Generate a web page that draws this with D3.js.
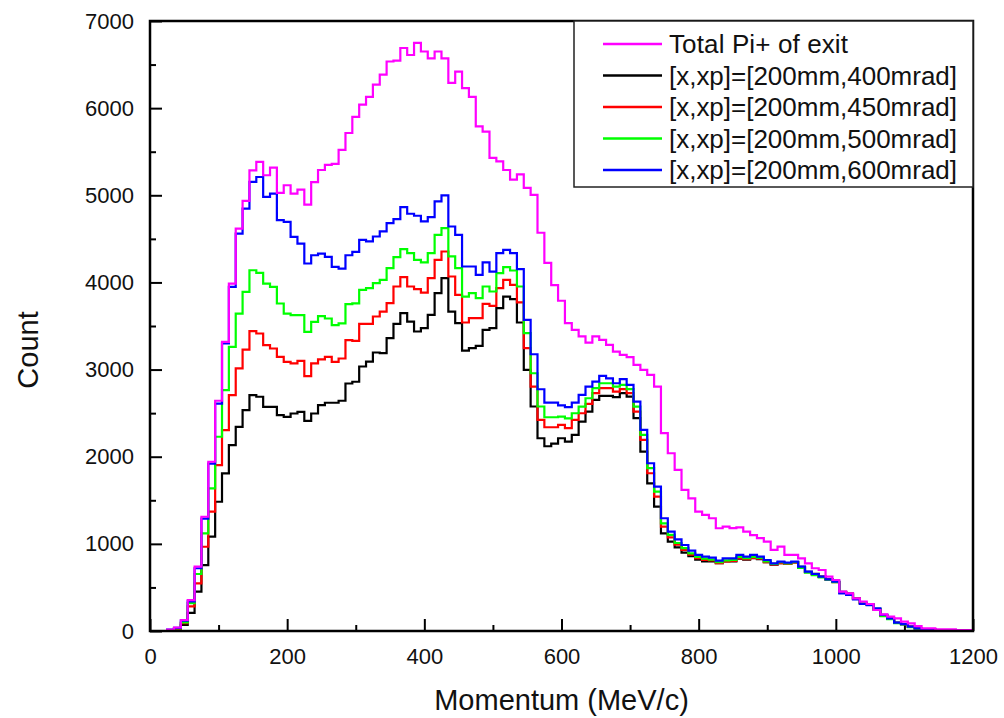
<!DOCTYPE html>
<html>
<head>
<meta charset="utf-8">
<script src="https://cdn.jsdelivr.net/npm/d3@7"></script>
<style>
  body { margin: 0; background: #fff; }
  svg { display: block; font-family: "Liberation Sans", Arial, sans-serif; }
</style>
</head>
<body>
<svg id="chart" width="1004" height="718"></svg>
<script>
// momentum bins: centre of bin k is k*10 MeV/c (0..1200)
var binWidth = 10;

var totalPi = [0,0,0,15,40,126,355,738,1311,1942,
  2642,3318,3987,4618,4935,5287,5383,5230,5318,5027,
  5115,5020,5065,4893,5150,5290,5350,5360,5520,5715,
  5900,6040,6130,6270,6384,6535,6545,6690,6610,6750,
  6650,6570,6650,6570,6290,6420,6230,6130,5790,5730,
  5430,5390,5290,5180,5240,5085,5005,4570,4225,3970,
  3790,3532,3456,3380,3310,3380,3340,3284,3207,3169,
  3142,3054,2996,2940,2805,2270,2040,1848,1619,1523,
  1370,1332,1294,1179,1198,1180,1190,1140,1100,1065,
  1026,930,968,873,873,834,777,720,700,624,
  585,452,432,375,337,310,241,191,165,145,
  107,88,57,30,30,20,20,20,10,10,10];

var xp400 = [0,0,0,5,20,70,207,451,757,1082,
  1483,1808,2133,2343,2535,2707,2688,2573,2573,2477,
  2458,2496,2515,2412,2496,2592,2619,2619,2642,2840,
  2860,3035,3092,3196,3188,3360,3525,3647,3551,3437,
  3475,3628,3877,4049,3666,3532,3218,3245,3272,3456,
  3475,3704,3838,3808,3540,2996,2576,2212,2120,2150,
  2212,2174,2250,2403,2518,2652,2698,2698,2683,2729,
  2690,2442,2059,1695,1427,1121,1025,960,900,860,
  820,800,800,780,800,800,830,820,835,825,
  790,760,780,770,790,735,680,655,625,595,
  565,450,430,375,322,305,245,180,142,95,
  80,50,30,18,18,10,10,10,0,0,0];

var xp450 = [0,0,0,8,25,90,283,547,967,1369,
  1904,2305,2707,3013,3230,3441,3414,3280,3242,3146,
  3089,3070,3100,2925,3070,3116,3146,3089,3127,3338,
  3330,3525,3525,3609,3666,3762,3953,4060,3953,3923,
  3884,4049,4259,4355,4068,3858,3540,3590,3590,3754,
  3731,3934,4030,3972,3770,3245,2805,2422,2338,2338,
  2365,2327,2422,2499,2606,2729,2786,2786,2748,2775,
  2729,2518,2193,1810,1542,1198,1075,990,930,875,
  835,815,810,780,800,805,835,825,840,830,
  790,765,780,770,785,730,675,648,620,590,
  560,445,425,372,318,300,250,175,140,92,
  78,48,30,17,17,10,10,10,0,0,0];

var xp500 = [0,0,0,10,30,100,320,654,1120,1636,
  2229,2764,3261,3643,3892,4140,4110,3987,3949,3758,
  3643,3624,3624,3433,3548,3613,3586,3509,3529,3750,
  3760,3915,3934,3992,4030,4164,4290,4382,4336,4259,
  4229,4336,4546,4623,4298,4164,3838,3877,3819,3953,
  3896,4106,4175,4137,3953,3418,2958,2576,2453,2453,
  2460,2441,2499,2575,2671,2786,2843,2843,2805,2824,
  2775,2575,2250,1868,1600,1236,1102,1010,950,890,
  850,830,820,790,810,815,850,835,850,840,
  800,770,790,775,790,725,670,640,615,590,
  560,440,420,370,320,300,255,170,135,90,
  75,45,28,15,15,10,10,10,0,0,0];

var xp600 = [0,0,0,15,35,120,340,720,1290,1920,
  2610,3300,3950,4560,4848,5153,5210,4981,5020,4714,
  4695,4523,4446,4217,4312,4331,4293,4178,4159,4312,
  4350,4489,4470,4527,4585,4680,4726,4864,4788,4765,
  4700,4750,4929,4998,4642,4546,4183,4183,4087,4229,
  4125,4336,4374,4336,4152,3570,3176,2774,2621,2621,
  2590,2568,2621,2710,2805,2862,2928,2900,2843,2890,
  2824,2633,2308,1925,1657,1294,1140,1052,987,922,
  873,853,842,807,834,834,873,853,873,853,
  815,777,796,785,796,738,681,654,624,593,
  566,432,413,364,310,298,260,184,145,96,
  80,50,31,19,19,10,10,10,0,0,0];

var seriesNames = ["Total Pi+ of exit", "[x,xp]=[200mm,400mrad]", "[x,xp]=[200mm,450mrad]",
  "[x,xp]=[200mm,500mrad]", "[x,xp]=[200mm,600mrad]"];
var seriesColors = ["#ff00ff", "#000000", "#ff0000", "#00ff00", "#0000ff"];
var seriesData = [totalPi, xp400, xp450, xp500, xp600];

var xTicks = [0, 200, 400, 600, 800, 1000, 1200];
var xMinor = [100, 300, 500, 700, 900, 1100];
var yTicks = [0, 1000, 2000, 3000, 4000, 5000, 6000, 7000];
var yMinor = [500, 1500, 2500, 3500, 4500, 5500, 6500];

var svg = d3.select("#chart");
var plot = {left: 150, right: 973, top: 21, bottom: 631};

var x = d3.scaleLinear().domain([0, 1200]).range([plot.left, plot.right]);
var y = d3.scaleLinear().domain([0, 7000]).range([plot.bottom, plot.top]);
var fmt = d3.format("d");

// 軸 (ticks inward)
var gx = svg.append("g").attr("transform", "translate(0," + plot.bottom + ")");
gx.call(d3.axisBottom(x).tickValues(xTicks).tickSize(-12).tickSizeOuter(0).tickPadding(20).tickFormat(fmt));
var gxm = svg.append("g").attr("transform", "translate(0," + plot.bottom + ")");
gxm.call(d3.axisBottom(x).tickValues(xMinor).tickSize(-6).tickSizeOuter(0).tickFormat(""));

var gy = svg.append("g").attr("transform", "translate(" + plot.left + ",0)");
gy.call(d3.axisLeft(y).tickValues(yTicks).tickSize(-12).tickSizeOuter(0).tickPadding(16).tickFormat(fmt));
var gym = svg.append("g").attr("transform", "translate(" + plot.left + ",0)");
gym.call(d3.axisLeft(y).tickValues(yMinor).tickSize(-6).tickSizeOuter(0).tickFormat(""));

svg.selectAll(".domain").remove();
svg.selectAll(".tick line").attr("stroke", "#000").attr("stroke-width", 2);
svg.selectAll(".tick text")
  .attr("fill", "#111")
  .style("font-size", "22px");
gx.selectAll(".tick text").attr("dy", "0.6em");

// step lines
var line = d3.line()
  .x(function(d, i){ return x(i * binWidth); })
  .y(function(d){ return y(d); })
  .curve(d3.curveStep);

var order = [1, 2, 3, 4, 0];
order.forEach(function(s){
  svg.append("path")
    .datum(seriesData[s])
    .attr("d", line)
    .attr("fill", "none")
    .attr("stroke", seriesColors[s])
    .attr("stroke-width", 2.2)
    .attr("stroke-linejoin", "miter");
});

// frame
svg.append("rect")
  .attr("x", plot.left).attr("y", plot.top)
  .attr("width", plot.right - plot.left).attr("height", plot.bottom - plot.top)
  .attr("fill", "none").attr("stroke", "#000").attr("stroke-width", 2.5);

// legend
var lg = {x: 574, y: plot.top, w: plot.right - 574, h: 166};
svg.append("rect")
  .attr("x", lg.x).attr("y", lg.y).attr("width", lg.w).attr("height", lg.h)
  .attr("fill", "#fff").attr("stroke", "#222").attr("stroke-width", 1.5);
var textLen = [179, 288, 288, 288, 288];
seriesNames.forEach(function(name, i){
  var ly = 44 + i * 31.5;
  svg.append("line")
    .attr("x1", 603).attr("x2", 662).attr("y1", ly).attr("y2", ly)
    .attr("stroke", seriesColors[i]).attr("stroke-width", 2.5);
  svg.append("text")
    .attr("x", 669).attr("y", ly + 9)
    .attr("textLength", textLen[i]).attr("lengthAdjust", "spacing")
    .style("font-size", "26px").attr("fill", "#111")
    .text(name);
});

// axis titles
svg.append("text")
  .attr("x", (plot.left + plot.right) / 2).attr("y", 710)
  .attr("text-anchor", "middle")
  .style("font-size", "29px").attr("fill", "#111")
  .text("Momentum (MeV/c)");
svg.append("text")
  .attr("transform", "translate(38,350) rotate(-90)")
  .attr("text-anchor", "middle")
  .style("font-size", "29px").attr("fill", "#111")
  .text("Count");
</script>
</body>
</html>
